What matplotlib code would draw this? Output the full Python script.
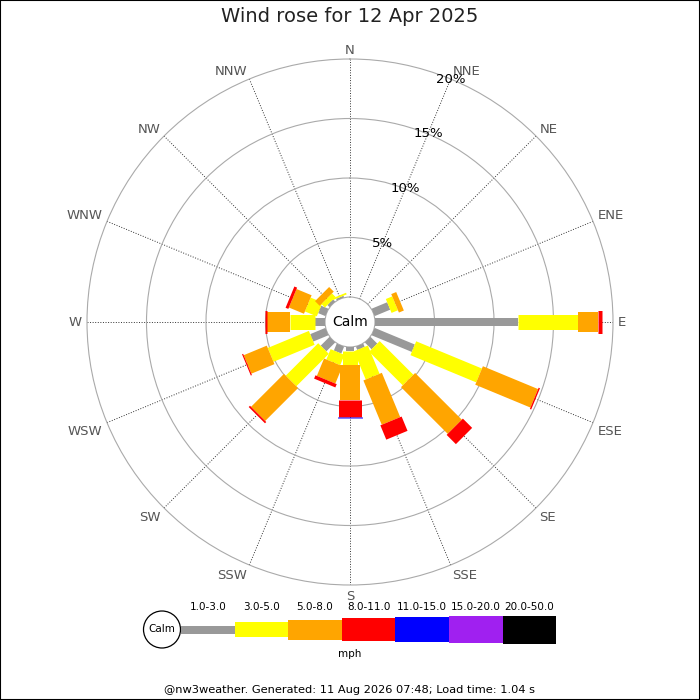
import numpy as np
import matplotlib
matplotlib.use('Agg')
from matplotlib import pyplot as plt
from matplotlib.patches import Rectangle, Circle

# 風向 (16方位) と風速帯
directions = ['N', 'NNE', 'NE', 'ENE', 'E', 'ESE', 'SE', 'SSE',
              'S', 'SSW', 'SW', 'WSW', 'W', 'WNW', 'NW', 'NNW']
speed_bands = ['1.0-3.0', '3.0-5.0', '5.0-8.0', '8.0-11.0',
               '11.0-15.0', '15.0-20.0', '20.0-50.0']

# 各風速帯の出現率 (%), 方位順
pct_1_3 = [0, 0, 0, 1.42, 12.0, 3.66, 0.8, 0.3, 0.31, 0.63, 1.05, 1.38, 0.84, 0.66, 0.25, 0.15]
pct_3_5 = [0, 0, 0, 0.58, 5.06, 5.98, 4.0, 2.57, 1.2, 0.94, 3.86, 3.74, 2.1, 1.08, 0.42, 0.15]
pct_5_8 = [0, 0, 0, 0.45, 1.68, 5.02, 5.55, 4.03, 2.94, 1.58, 3.91, 2.1, 1.91, 1.37, 0.55, 0]
pct_8_11 = [0, 0, 0, 0, 0.36, 0.12, 1.1, 1.3, 1.45, 0.3, 0.15, 0.1, 0.19, 0.25, 0, 0]
pct_11_15 = [0, 0, 0, 0, 0, 0, 0, 0, 0.08, 0, 0, 0, 0, 0, 0, 0]
pct_15_20 = [0] * 16
pct_20_50 = [0] * 16
ring_pcts = [5, 10, 15, 20]

# 描画スタイル
band_colors = ['#999999', '#ffff00', '#ffa500', '#ff0000', '#0000ff', '#a020f0', '#000000']
band_px = [8, 15, 20, 23, 25, 27, 28]
calm_offset = 2.1

fig = plt.figure(figsize=(7, 7), dpi=100)

# 凡例用の全面軸 (ピクセル座標)
lax = fig.add_axes([0, 0, 1, 1])
lax.set_xlim(0, 700)
lax.set_ylim(700, 0)
lax.axis('off')

ax = fig.add_axes([87 / 700, 115 / 700, 526 / 700, 526 / 700], projection='polar')
ax.set_theta_zero_location('N')
ax.set_theta_direction(-1)
ax.set_rorigin(-calm_offset)
ax.set_ylim(0, 20)

angles = np.arange(len(directions)) * 22.5
theta = np.deg2rad(angles)
ax.set_xticks(theta)
ax.set_xticklabels([])
ax.tick_params(axis='x', length=0)
ax.set_yticks(ring_pcts[:-1])
ax.set_yticklabels([])
ax.yaxis.grid(True, color='#aaaaaa', lw=0.8, ls='-')
ax.xaxis.grid(True, color='#333333', lw=0.7, ls=':')
ax.spines['polar'].set_color('#aaaaaa')
ax.spines['polar'].set_linewidth(0.8)
ax.spines['inner'].set_color('#aaaaaa')
ax.spines['inner'].set_linewidth(0.8)

# 方位ラベル: 外周の外側に、左右上下で揃え方を変える
for lab, t in zip(directions, theta):
    sx, cy = np.sin(t), np.cos(t)
    ha = 'center' if abs(sx) < 1e-6 else ('left' if sx > 0 else 'right')
    va = 'center' if abs(cy) < 1e-6 else ('baseline' if cy > 0 else 'top')
    ax.annotate(lab, xy=(t, 20), xytext=(3.5 * sx, 3.5 * cy),
                textcoords='offset points', ha=ha, va=va,
                fontsize=9.5, color='#555555', annotation_clip=False)

# 積み上げ棒 (幅一定の長方形)
bands = [pct_1_3, pct_3_5, pct_5_8, pct_8_11, pct_11_15, pct_15_20, pct_20_50]
base = np.zeros(len(directions))
for vals, col, w in zip(bands, band_colors, band_px):
    vals = np.array(vals, dtype=float)
    for t, b, v in zip(theta, base, vals):
        if v > 0:
            ax.plot([t, t], [b, b + v], color=col, lw=w * 0.72,
                    solid_capstyle='butt', zorder=3)
    base = base + vals

for r in ring_pcts:
    ax.text(np.deg2rad(22.5), r, f'{r}%', ha='center', va='center',
            fontsize=9.5, color='black', zorder=5)

ax.text(0.5, 0.5, 'Calm', transform=ax.transAxes, ha='center', va='center',
        fontsize=10)

# 凡例
x0, seg_w, y_mid = 181, 53.6, 629.5
lax.add_patch(Circle((162, y_mid), 18.5, fc='white', ec='black', lw=0.9))
lax.text(162, y_mid, 'Calm', ha='center', va='center', fontsize=7.5)
for i, (lab, col, h) in enumerate(zip(speed_bands, band_colors, band_px)):
    xs = x0 + i * seg_w
    lax.add_patch(Rectangle((xs, y_mid - h / 2), seg_w, h, fc=col, ec='none'))
    lax.text(xs + seg_w / 2, 607, lab, ha='center', va='center', fontsize=7.5)
lax.text(350, 654, 'mph', ha='center', va='center', fontsize=7.5)

fig.text(0.5, 1 - 17 / 700, 'Wind rose for 12 Apr 2025', ha='center', va='center',
         fontsize=14, color='#222222')
fig.text(0.5, 1 - 690 / 700,
         '@nw3weather. Generated: 11 Aug 2026 07:48; Load time: 1.04 s',
         ha='center', va='center', fontsize=8.2)

fig.patches.append(Rectangle((0, 0), 1, 1, transform=fig.transFigure,
                             fill=False, ec='black', lw=1.5))

fig.savefig('out.png', dpi=100)
